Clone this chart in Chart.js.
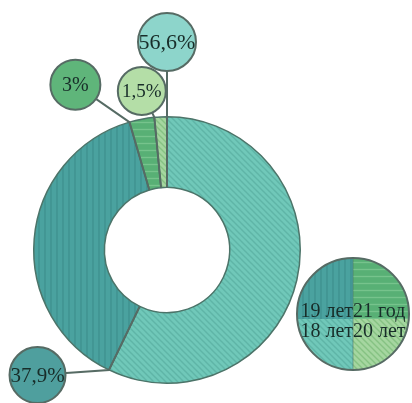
<!DOCTYPE html>
<html>
<head>
<meta charset="utf-8">
<script src="https://cdn.jsdelivr.net/npm/chart.js@4.4.1/dist/chart.umd.min.js"></script>
<style>
  html, body { margin: 0; padding: 0; background: #fff; }
  canvas { display: block; }
</style>
</head>
<body>
<canvas id="chart" width="412" height="403"></canvas>
<script>
// segments, clockwise from 12 o'clock
const ageGroups = ['18 лет', '19 лет', '21 год', '20 лет'];
const shares = [56.6, 37.9, 3, 1.5];

// legend quadrants: top-left, top-right, bottom-left, bottom-right
const legendOrder = ['19 лет', '21 год', '18 лет', '20 лет'];

// fills per group: base colour, stripe colour, stripe direction, step
const fills = {
    '18 лет': ['#70c8b9', '#5fb5a7', 'd', 6],
    '19 лет': ['#4aa29f', '#3f9290', 'v', 6],
    '21 год': ['#58b075', '#76c38c', 'h', 7],
    '20 лет': ['#a5d6a0', '#86c283', 'd', 6]
};
const bubbleColors = {
    '18 лет': '#8dd5cb',
    '19 лет': '#4f9f9e',
    '21 год': '#5fb57a',
    '20 лет': '#b4dea7'
};

// callout bubbles: angle (deg, clockwise from top), distance from centre, radius, font size
const calloutAngle = [0, 226, 331, 351];
const calloutDist = [208, 180, 189, 161];
const calloutRadius = [29, 28, 25, 24];
const calloutFont = [22, 21, 20, 19];

const lineColor = '#566b64';
const textColor = '#182d29';

const canvas = document.getElementById('chart');
const mainCtx = canvas.getContext('2d');

function stripePattern(base, stripe, dir, step) {
    const c = document.createElement('canvas');
    c.width = step;
    c.height = step;
    const g = c.getContext('2d');
    g.fillStyle = base;
    g.fillRect(0, 0, step, step);
    g.strokeStyle = stripe;
    g.lineWidth = 1.4;
    g.beginPath();
    if (dir === 'v') {
        g.moveTo(step / 2, 0); g.lineTo(step / 2, step);
    } else if (dir === 'h') {
        g.moveTo(0, step / 2); g.lineTo(step, step / 2);
    } else {
        g.moveTo(-1, -1); g.lineTo(step + 1, step + 1);
        g.moveTo(-1, step - 1); g.lineTo(1, step + 1);
        g.moveTo(step - 1, -1); g.lineTo(step + 1, 1);
    }
    g.stroke();
    return mainCtx.createPattern(c, 'repeat');
}

const patterns = {};
Object.keys(fills).forEach(k => {
    const f = fills[k];
    patterns[k] = stripePattern(f[0], f[1], f[2], f[3]);
});

function formatShare(v) {
    return String(v).replace('.', ',') + '%';
}

const calloutPlugin = {
    id: 'callouts',
    afterDatasetsDraw(chart) {
        const ctx = chart.ctx;
        const arcs = chart.getDatasetMeta(0).data;
        const spots = [];

        ctx.save();
        ctx.strokeStyle = lineColor;
        ctx.lineWidth = 2;
        arcs.forEach((arc, i) => {
            const p = arc.getProps(['x', 'y', 'startAngle', 'innerRadius', 'outerRadius'], true);
            const a = (calloutAngle[i] - 90) * Math.PI / 180;
            const bx = p.x + calloutDist[i] * Math.cos(a);
            const by = p.y + calloutDist[i] * Math.sin(a);
            spots.push([bx, by]);
            ctx.beginPath();
            ctx.moveTo(p.x + p.innerRadius * Math.cos(p.startAngle), p.y + p.innerRadius * Math.sin(p.startAngle));
            ctx.lineTo(p.x + p.outerRadius * Math.cos(p.startAngle), p.y + p.outerRadius * Math.sin(p.startAngle));
            ctx.lineTo(bx, by);
            ctx.stroke();
        });

        arcs.forEach((arc, i) => {
            const [bx, by] = spots[i];
            ctx.beginPath();
            ctx.arc(bx, by, calloutRadius[i], 0, Math.PI * 2);
            ctx.fillStyle = bubbleColors[ageGroups[i]];
            ctx.fill();
            ctx.lineWidth = 2;
            ctx.strokeStyle = lineColor;
            ctx.stroke();
            ctx.fillStyle = textColor;
            ctx.font = calloutFont[i] + 'px "Liberation Serif", serif';
            ctx.textAlign = 'center';
            ctx.textBaseline = 'middle';
            ctx.fillText(formatShare(shares[i]), bx, by + 1);
        });

        // round legend split into four quadrants
        const lx = 353, ly = 314, lr = 56, split = 5;
        const quads = [
            [lx - lr, ly - lr, lr, lr + split],
            [lx, ly - lr, lr, lr + split],
            [lx - lr, ly + split, lr, lr - split],
            [lx, ly + split, lr, lr - split]
        ];
        ctx.save();
        ctx.beginPath();
        ctx.arc(lx, ly, lr, 0, Math.PI * 2);
        ctx.clip();
        legendOrder.forEach((name, i) => {
            ctx.fillStyle = patterns[name];
            ctx.fillRect(...quads[i]);
        });
        ctx.restore();
        ctx.beginPath();
        ctx.moveTo(lx, ly - lr);
        ctx.lineTo(lx, ly + lr);
        ctx.strokeStyle = 'rgba(70,100,95,0.5)';
        ctx.lineWidth = 1;
        ctx.stroke();
        ctx.beginPath();
        ctx.arc(lx, ly, lr, 0, Math.PI * 2);
        ctx.strokeStyle = lineColor;
        ctx.lineWidth = 2;
        ctx.stroke();

        ctx.fillStyle = textColor;
        ctx.font = '20px "Liberation Serif", serif';
        ctx.textBaseline = 'alphabetic';
        ctx.textAlign = 'right';
        ctx.fillText(legendOrder[0], lx, ly + 3);
        ctx.fillText(legendOrder[2], lx, ly + 23);
        ctx.textAlign = 'left';
        ctx.fillText(legendOrder[1], lx, ly + 3);
        ctx.fillText(legendOrder[3], lx, ly + 23);
        ctx.restore();
    }
};

new Chart(canvas, {
    type: 'doughnut',
    data: {
        labels: ageGroups,
        datasets: [{
            data: shares,
            backgroundColor: ageGroups.map(g => patterns[g]),
            borderColor: '#4c7469',
            borderWidth: 1.5
        }]
    },
    options: {
        responsive: false,
        animation: false,
        cutout: '47%',
        layout: { padding: { left: 33, right: 111, top: 116, bottom: 19 } },
        plugins: {
            legend: { display: false },
            tooltip: { enabled: false }
        }
    },
    plugins: [calloutPlugin]
});
</script>
</body>
</html>
